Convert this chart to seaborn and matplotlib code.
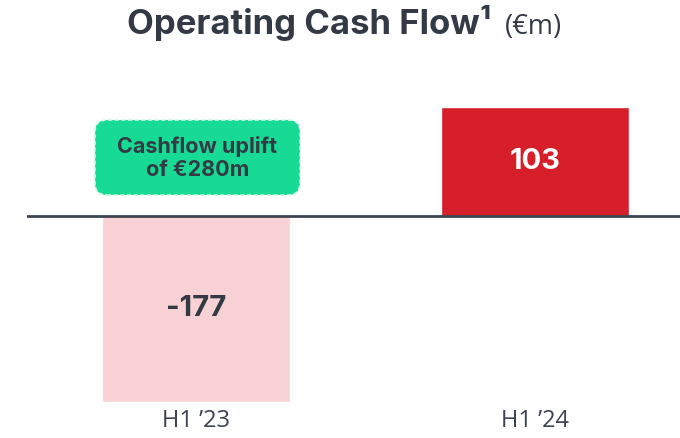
import matplotlib
matplotlib.use("Agg")
import matplotlib.pyplot as plt
import seaborn as sns
import pandas as pd
from matplotlib.patches import FancyBboxPatch
from matplotlib.transforms import IdentityTransform

periods = ["H1 \u201923", "H1 \u201924"]
cash_flow = [-177, 103]
bar_colors = ["#f7d1d3", "#d71f29"]
label_colors = ["#333a45", "#ffffff"]
callout_text = "Cashflow uplift\nof \u20ac280m"

sns.set_theme(style="white")
plt.rcParams["font.family"] = ["Open Sans", "DejaVu Sans"]
BOLD = ["Inter", "DejaVu Sans"]

dark = "#333a45"

fig = plt.figure(figsize=(6.8, 4.38), dpi=100)
W, H = 680, 438
ax = fig.add_axes([27 / W, (H - 402) / H, 1 - 27 / W, (402 - 107) / H])

df = pd.DataFrame({"period": periods, "value": cash_flow})
sns.barplot(data=df, x="period", y="value", hue="period",
            palette=bar_colors, width=0.557, legend=False, ax=ax,
            saturation=1)

ax.set_xlim(-0.4985, 1.428)
ax.set_ylim(min(cash_flow), max(cash_flow))
ax.axhline(0, color="#3c4250", lw=2, zorder=5)

for i, v in enumerate(cash_flow):
    ax.text(i, v / 2, f"{v}", ha="center", va="center", fontsize=21,
            fontweight="bold", family=BOLD, color=label_colors[i])

sns.despine(ax=ax, left=True, bottom=True)
ax.set_yticks([])
ax.set_xlabel("")
ax.set_ylabel("")
ax.tick_params(axis="x", length=0, pad=5, labelsize=17, labelcolor="#3c4250")

# callout box (pixel coords)
box = FancyBboxPatch((95, H - 195), 205, 75,
                     boxstyle="round,pad=0,rounding_size=12",
                     transform=IdentityTransform(), fc="#17db94",
                     ec="#c8f7e4", lw=1.2, ls=(0, (2.5, 1.5)))
fig.patches.append(box)
fig.text(197.5 / W, (H - 158) / H, callout_text, ha="center", va="center",
         fontsize=15.5, fontweight="bold", family=BOLD, color=dark,
         linespacing=1.22)

# title
renderer = fig.canvas.get_renderer()
t1 = fig.text(127 / W, (H - 34) / H, "Operating Cash Flow\u00b9", ha="left",
              va="baseline", fontsize=25, fontweight="bold", family=BOLD,
              color=dark)
bb = t1.get_window_extent(renderer)
fig.text((bb.x1 + 14) / W, (H - 34) / H, "(\u20acm)", ha="left",
         va="baseline", fontsize=19.5, color=dark)

fig.savefig("out.png", dpi=100)
